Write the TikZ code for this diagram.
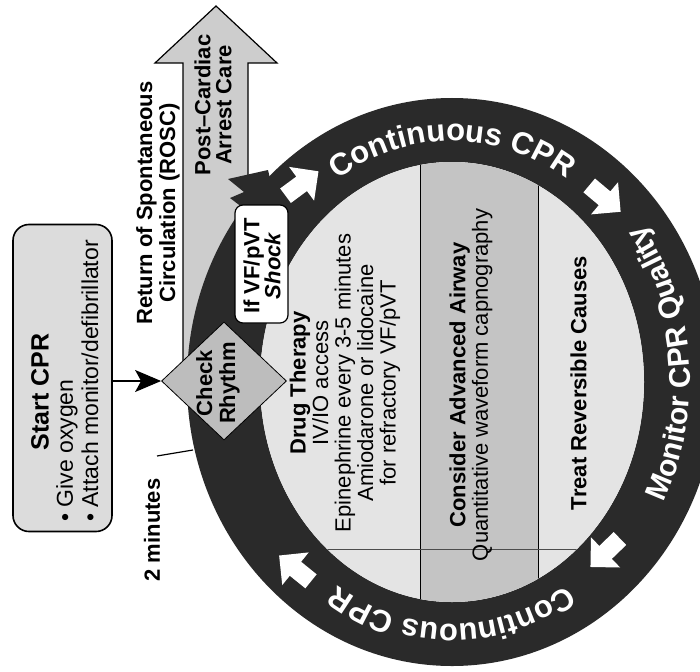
\documentclass[tikz,border=0pt]{standalone}
\usepackage{fontspec}
\setmainfont{Liberation Sans}
\usetikzlibrary{decorations.text, shapes.geometric, arrows.meta}

\definecolor{ringdark}{HTML}{2A2A2A}
\definecolor{disclight}{HTML}{E4E4E4}
\definecolor{discmid}{HTML}{C4C4C4}
\definecolor{roscgray}{HTML}{CDCDCD}
\definecolor{startgray}{HTML}{DCDCDC}
\definecolor{checkgray}{HTML}{BDBDBD}

\newcommand\setfs[1]{\fontsize{#1}{#1}\selectfont}

\tikzset{
  txt/.style={inner sep=0pt, rotate=90, align=center, font=\fontsize{22}{22.5}\selectfont},
  ringtext/.style={decorate, decoration={text along path, text align=center, text={#1}}},
  ringarrow/.style={fill=white},
}

\begin{document}
\begin{tikzpicture}[x=1pt,y=1pt]
\useasboundingbox (0,0) rectangle (700,-671);
\fill[white] (0,0) rectangle (700,-671);

\coordinate (C) at (452,-382);

% Return of spontaneous circulation arrow (drawn first, ring covers its foot)
\filldraw[fill=roscgray, draw=black, line width=1.2pt]
  (183,-380) -- (183,-63) -- (155,-63) -- (216,-6) -- (277,-63) -- (248,-63) -- (248,-380);

% the CPR ring
\fill[ringdark, even odd rule]
  (C) ellipse [x radius=265, y radius=284]
  (C) ellipse [x radius=192, y radius=220];

% inner disc with its three columns
\begin{scope}
  \clip (C) ellipse [x radius=192, y radius=220];
  \fill[disclight] (250,-150) rectangle (660,-610);
  \fill[discmid] (420,-150) rectangle (538,-610);
  \draw[line width=0.8pt] (420,-150) -- (420,-610);
  \draw[line width=0.8pt] (538,-150) -- (538,-610);
  \draw[line width=0.6pt, black!70] (250,-549) -- (660,-549);
\end{scope}

% shock bolt, jagged, from the ring into the arrow
\fill[ringdark] (268,-170) -- (228,-179) -- (244,-192) -- (230,-198) -- (247,-211)
  -- (257,-203) -- (262,-211) -- (274,-196) -- cycle;

% white arrows running clockwise round the ring
\foreach \px/\py/\ang in {300/185/36.5, 603/197/-40, 607/551/-136, 297/570/141}{
  \begin{scope}[shift={(\px,-\py)}, rotate=\ang]
    \fill[ringarrow] (-18,-9) -- (2,-9) -- (2,-21) -- (23,0) -- (2,21) -- (2,9) -- (-18,9) -- cycle;
  \end{scope}
}

% ring lettering
\path[ringtext={|\setfs{31}\bfseries\color{white}|Continuous CPR}]
  ([shift={(150:212 and 241)}]C) arc [start angle=150, end angle=30, x radius=212, y radius=241];
\path[ringtext={|\setfs{31}\bfseries\color{white}|Continuous CPR}]
  ([shift={(330:212 and 242)}]C) arc [start angle=330, end angle=210, x radius=212, y radius=242];
\path[ringtext={|\setfs{30}\bfseries\color{white}|Monitor CPR Quality}]
  ([shift={(-55:238 and 262)}]C) arc [start angle=-55, end angle=65, x radius=238, y radius=262];

% inner disc texts
\node[txt] (drug) at (345,-383) {\textbf{Drug Therapy}\\IV/IO access\\Epinephrine every 3-5 minutes\\Amiodarone or lidocaine\\for refractory VF/pVT};
\node[txt] (airway) at (471,-385) {\textbf{Consider Advanced Airway}\\Quantitative waveform capnography};
\node[txt] (causes) at (578.5,-383) {\textbf{Treat Reversible Causes}};

% start box
\node[draw=black, line width=1.6pt, fill=startgray, rounded corners=16pt, rotate=90,
      minimum width=307, minimum height=99, inner sep=0pt] (start) at (62.5,-378) {};
\node[txt, font=\fontsize{25}{25}\selectfont\bfseries] (starttitle) at (40,-392) {Start CPR};
\node[txt, anchor=west, font=\fontsize{23}{23}\selectfont] (give) at (67,-522) {\textbullet\ Give oxygen};
\node[txt, anchor=west, font=\fontsize{23}{23}\selectfont] (attach) at (90,-522) {\textbullet\ Attach monitor/defibrillator};

% check rhythm diamond
\node[diamond, draw=black, line width=0.8pt, fill=checkgray, minimum width=125, minimum height=118, inner sep=0pt] (check) at (224,-381) {};
\node[txt, font=\fontsize{22}{23}\selectfont\bfseries] (checktext) at (218,-383) {Check\\Rhythm};

\draw[line width=1.2pt, -{Stealth[length=26pt, width=22pt, inset=6pt]}] (start.south |- check.west) -- (check.west);

% shock box
\node[draw=black, line width=1.2pt, fill=white, rounded corners=8pt, rotate=90,
      minimum width=118, minimum height=53, inner sep=0pt] (shock) at (261.5,-264) {};
\node[txt, font=\fontsize{22}{21}\selectfont\bfseries] (shocktext) at (262,-266) {If VF/pVT\\\itshape Shock};

% labels outside the ring
\node[txt, font=\fontsize{22}{23}\selectfont\bfseries] (rosc) at (158,-203) {Return of Spontaneous\\Circulation (ROSC)};
\node[txt, font=\fontsize{22}{21}\selectfont\bfseries] (post) at (213,-105) {Post--Cardiac\\Arrest Care};
\node[txt, font=\fontsize{22}{22}\selectfont\bfseries] (twomin) at (152,-530) {2 minutes};
\coordinate (ringedge) at (193,-450);
\draw[line width=1.2pt] (157,-456) -- (ringedge);

\end{tikzpicture}
\end{document}
